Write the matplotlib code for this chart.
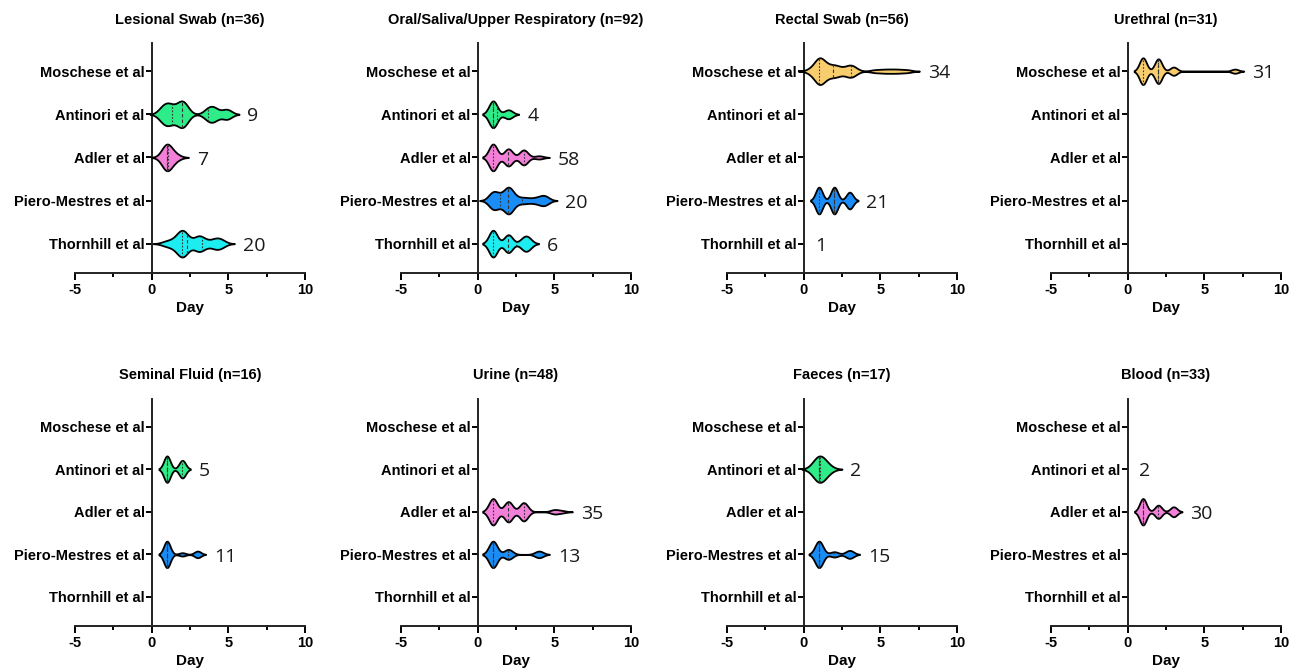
import numpy as np
import matplotlib.pyplot as plt

# studies, top to bottom
studies = ["Moschese et al", "Antinori et al", "Adler et al", "Piero-Mestres et al", "Thornhill et al"]
colors = {"Moschese et al": "#F7CD6E", "Antinori et al": "#2EEC88", "Adler et al": "#F27FD8",
          "Piero-Mestres et al": "#1A8CF5", "Thornhill et al": "#1DEDF0"}

titles = ["Lesional Swab (n=36)", "Oral/Saliva/Upper Respiratory (n=92)", "Rectal Swab (n=56)",
          "Urethral (n=31)", "Seminal Fluid (n=16)", "Urine (n=48)", "Faeces (n=17)", "Blood (n=33)"]

# day values per study
lesional = {"Antinori et al": [0.7, 1.0, 1.3, 1.8, 2.0, 2.2, 3.7, 4.1, 4.9],
            "Adler et al": [0.8, 1.0, 1.0, 1.0, 1.0, 1.2, 1.6],
            "Thornhill et al": [0.9, 1.3, 1.6, 1.8, 1.9, 2.0, 2.0, 2.0, 2.1, 2.2, 2.4, 3.0, 3.0,
                                3.1, 3.2, 3.5, 4.0, 4.2, 4.4, 4.6]}
oral = {"Antinori et al": [1, 1, 1, 2],
        "Adler et al": [1] * 25 + [2] * 16 + [3] * 14 + [4] * 3,
        "Piero-Mestres et al": [0.8, 1.0, 1.0, 1.1, 1.3, 1.5, 1.7, 1.9, 2.0, 2.0, 2.0, 2.1, 2.2,
                                2.4, 2.8, 3.2, 3.7, 4.1, 4.3, 4.5],
        "Thornhill et al": [1, 1, 1, 2, 2, 3, 3.3]}
rectal = {"Moschese et al": [0.4, 0.6, 0.8, 0.9, 1.0, 1.0, 1.0, 1.0, 1.0, 1.1, 1.1, 1.2, 1.3, 1.4,
                             1.5, 1.6, 1.8, 2.0, 2.0, 2.1, 2.3, 2.5, 2.8, 3.0, 3.0, 3.1, 3.2, 3.4,
                             4.6, 5.1, 5.5, 5.9, 6.3, 6.8],
          "Piero-Mestres et al": [1] * 8 + [2] * 8 + [3] * 5,
          "Thornhill et al": []}
urethral = {"Moschese et al": [1] * 13 + [2] * 12 + [3] * 4 + [7] * 2}
seminal = {"Antinori et al": [1, 1, 1, 2, 2],
           "Piero-Mestres et al": [1] * 8 + [2] * 1 + [3] * 2}
urine = {"Adler et al": [1] * 13 + [2] * 10 + [3] * 9 + [5] * 2 + [5.5],
         "Piero-Mestres et al": [1] * 8 + [2] * 3 + [4] * 2}
faeces = {"Antinori et al": [0.9, 1.0, 1.0, 1.1, 1.5],
          "Piero-Mestres et al": [1] * 10 + [2] * 2 + [3] * 3}
blood = {"Antinori et al": [],
         "Adler et al": [1] * 16 + [2] * 8 + [3] * 6}

# n shown next to each violin
lesional_n = {"Antinori et al": 9, "Adler et al": 7, "Thornhill et al": 20}
oral_n = {"Antinori et al": 4, "Adler et al": 58, "Piero-Mestres et al": 20, "Thornhill et al": 6}
rectal_n = {"Moschese et al": 34, "Piero-Mestres et al": 21, "Thornhill et al": 1}
urethral_n = {"Moschese et al": 31}
seminal_n = {"Antinori et al": 5, "Piero-Mestres et al": 11}
urine_n = {"Adler et al": 35, "Piero-Mestres et al": 13}
faeces_n = {"Antinori et al": 2, "Piero-Mestres et al": 15}
blood_n = {"Antinori et al": 2, "Adler et al": 30}

panels = [lesional, oral, rectal, urethral, seminal, urine, faeces, blood]
panel_n = [lesional_n, oral_n, rectal_n, urethral_n, seminal_n, urine_n, faeces_n, blood_n]

# kde smoothing per panel, with a few per-violin overrides
smooth = [0.32, 0.27, 0.30, 0.23, 0.21, 0.27, 0.26, 0.22]
smooth_override = {(6, "Antinori et al"): 0.4, (2, "Piero-Mestres et al"): 0.22}

plt.rcParams['font.family'] = ['Liberation Sans', 'DejaVu Sans']

fig = plt.figure(figsize=(12.97, 6.72), dpi=100)
lefts = [0.0578, 0.3092, 0.5605, 0.8103]
bottoms = [0.5938, 0.0685]
w, hs = 0.1773, [0.342, 0.338]


def draw_violin(ax, vals, y, color, bw):
    vals = np.asarray(vals, dtype=float)
    ext = 2.5 * bw
    xs = np.linspace(vals.min() - ext, vals.max() + ext, 600)
    dens = np.exp(-0.5 * ((xs[:, None] - vals[None, :]) / bw) ** 2).sum(axis=1)
    half = 0.31 * dens / dens.max()
    ax.fill_between(xs, y - half, y + half, facecolor=color, edgecolor='black', linewidth=1.3, zorder=3)
    q1, med, q3 = np.percentile(vals, [25, 50, 75])
    for q, ls in [(q1, (0, (1.5, 1.5))), (med, (0, (3, 2))), (q3, (0, (1.5, 1.5)))]:
        hq = np.interp(q, xs, half)
        ax.plot([q, q], [y - hq, y + hq], color='#333333', linewidth=0.8, linestyle=ls, zorder=4)
    return xs.max()


for i, (data, ns) in enumerate(zip(panels, panel_n)):
    r, c = divmod(i, 4)
    ax = fig.add_axes([lefts[c], bottoms[r], w, hs[r]])
    for name, vals in data.items():
        y = 4 - studies.index(name)
        if len(vals) > 0:
            bw = smooth_override.get((i, name), smooth[i])
            end = draw_violin(ax, vals, y, colors[name], bw)
            tx = end + 0.55
        else:
            tx = 0.75
        ax.text(tx, y - 0.05, str(ns[name]), fontsize=14, family=['Open Sans', 'DejaVu Sans'],
                va='center', ha='left', color='#1a1a1a')

    ax.set_xlim(-5, 10)
    ax.set_ylim(-0.68, 4.65)
    ax.spines['top'].set_visible(False)
    ax.spines['right'].set_visible(False)
    ax.spines['left'].set_position(('data', 0))
    for s in ['left', 'bottom']:
        ax.spines[s].set_linewidth(1.4)
        ax.spines[s].set_color('#222222')
    ax.set_xticks([-5, 0, 5, 10])
    ax.set_xticks([-2.5, 2.5, 7.5], minor=True)
    ax.set_xticklabels(['-5', '0', '5', '10'], fontweight='bold', fontsize=10.5)
    ax.set_yticks([4, 3, 2, 1, 0])
    ax.set_yticklabels(studies, fontweight='bold', fontsize=10.5)
    ax.tick_params(axis='x', which='major', length=5, width=1.4, direction='out', pad=2)
    ax.tick_params(axis='x', which='minor', length=3, width=1.4, direction='out')
    ax.tick_params(axis='y', length=4, width=1.4, direction='out', pad=1)
    ax.set_xlabel('Day', fontweight='bold', fontsize=11, labelpad=3)
    ax.set_title(titles[i], fontweight='bold', fontsize=10.5, pad=14)
    ax.patch.set_visible(False)

fig.savefig('out.png', dpi=100)
